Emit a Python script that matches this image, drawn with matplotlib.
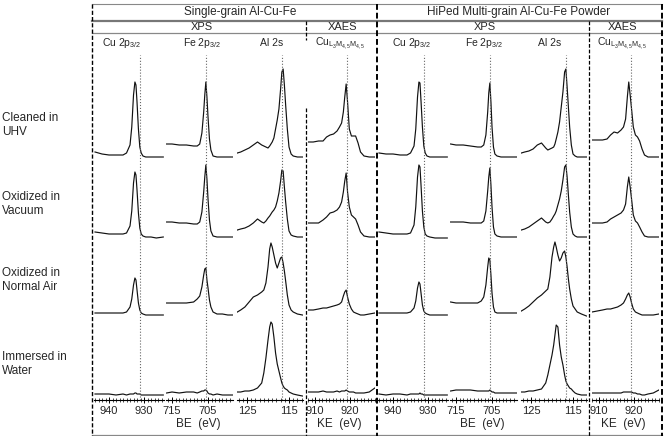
import matplotlib.pyplot as plt
from matplotlib.ticker import MultipleLocator

plt.rcParams['font.family'] = ['Liberation Sans', 'DejaVu Sans']
plt.rcParams['mathtext.fontset'] = 'custom'
plt.rcParams['mathtext.rm'] = 'Liberation Sans'
plt.rcParams['mathtext.it'] = 'Liberation Sans:italic'

# ---- data (intensity in arb. units above each row's baseline)
cu_e = [944, 942, 940, 938, 936, 935, 934, 933.5, 933.0, 932.6, 932.3, 932.0, 931.6, 931.2,
        930.8, 930.3, 929.5, 928, 926.5, 924.5]
fe_e = [716.5, 715, 713, 711, 709, 708, 707.3, 706.7, 706.2, 705.9, 705.6, 705.3, 705.0, 704.6,
        704.2, 703.6, 702.5, 701, 699.5, 698.2]
al_e = [127.3, 126.5, 125.5, 124.5, 123.5, 122.5, 121.5, 121.0, 120.5, 120.0, 119.6, 119.3, 119.0,
        118.6, 118.2, 117.8, 117.4, 117.0, 116.7, 116.4, 116.1, 115.8, 115.4, 115.0, 114.5, 114.0,
        113.0, 111.8]
lmm_e = [908, 909.5, 911, 912.3, 913.3, 914.3, 915.3, 916.3, 917.0, 917.6, 918.1, 918.5, 918.9,
         919.3, 919.8, 920.4, 921.0, 921.6, 922.3, 923.0, 924, 925.5, 927.1]

# rows: cleaned UHV, oxidized vacuum, oxidized air, immersed water
sg_cu = [[5, 3, 2, 2, 2, 4, 12, 30, 62, 75, 72, 55, 28, 10, 4, 1, 0, 0, 0, 0],
         [5, 4, 3, 3, 3, 4, 11, 26, 54, 65, 62, 47, 24, 9, 3, 1, 0, 0, -1, 0],
         [2, 2, 2, 2, 2, 3, 8, 16, 30, 37, 35, 25, 12, 5, 2, 1, 0, 0, 0, 0],
         [1, 1, 1, 0, 1, 0, 1, 1, 1, 2, 2, 1, 1, 1, 0, 0, 0, 0, 0, 0]]
sg_fe = [[13, 13, 12, 12, 11, 11, 13, 24, 45, 62, 75, 60, 40, 18, 7, 1, 0, 0, 0, 0],
         [15, 15, 14, 14, 13, 13, 15, 25, 45, 60, 72, 58, 38, 17, 6, 1, 0, 0, 0, 0],
         [12, 12, 12, 12, 13, 16, 19, 28, 40, 46, 47, 35, 27, 15, 8, 3, 1, 1, 0, 0],
         [2, 3, 2, 3, 3, 2, 3, 4, 4, 5, 5, 4, 2, 1, 1, 0, 1, 0, 0, 0]]
sg_al = [[4, 5, 7, 9, 12, 15, 12, 11, 10, 9, 11, 13, 15, 19, 28, 37, 48, 68, 85, 88, 72, 52, 28, 10, 3, 1, 0, 0],
         [7, 8, 9, 11, 14, 18, 15, 14, 16, 19, 21, 23, 25, 27, 30, 36, 44, 56, 67, 66, 50, 35, 18, 6, 2, 1, 0, 0],
         [3, 5, 8, 13, 18, 20, 23, 25, 32, 48, 66, 72, 68, 60, 52, 47, 52, 57, 58, 52, 44, 34, 20, 10, 5, 3, 1, 0],
         [3, 3, 4, 4, 5, 7, 12, 22, 37, 55, 68, 73, 71, 58, 42, 31, 24, 17, 12, 9, 7, 6, 5, 3, 2, 1, 0, -1]]
sg_lmm = [[15, 15, 16, 16, 20, 22, 23, 26, 30, 34, 45, 60, 73, 55, 28, 21, 21, 21, 14, 5, 1, 0, 0],
          [14, 14, 14, 17, 20, 24, 25, 27, 30, 35, 45, 56, 64, 45, 30, 22, 20, 18, 12, 5, 1, 0, 0],
          [5, 5, 6, 7, 7, 8, 9, 10, 11, 13, 19, 23, 25, 18, 11, 6, 3, 2, 1, 0, 0, 1, 2],
          [3, 3, 3, 4, 3, 3, 3, 4, 3, 4, 4, 4, 5, 4, 3, 3, 3, 2, 2, 2, 2, 3, 7]]

hp_cu = [[4, 3, 3, 2, 2, 4, 11, 28, 60, 75, 74, 56, 30, 11, 4, 1, 0, 0, 0, 0],
         [5, 4, 3, 3, 3, 4, 12, 30, 60, 72, 70, 52, 26, 10, 3, 1, 0, -1, -1, -1],
         [2, 2, 2, 2, 2, 3, 7, 14, 27, 33, 31, 22, 10, 4, 2, 1, 0, 0, 0, 0],
         [1, 0, 1, 1, 0, 1, 1, 1, 1, 1, 2, 1, 1, 0, 0, 0, 0, 0, 0, 0]]
hp_fe = [[13, 12, 12, 11, 10, 10, 12, 22, 45, 64, 74, 55, 30, 10, 3, 1, 0, 0, 0, 0],
         [15, 15, 15, 14, 14, 14, 16, 26, 46, 60, 69, 52, 30, 10, 3, 1, 0, 0, 0, 0],
         [13, 12, 12, 12, 12, 14, 18, 30, 48, 57, 55, 40, 22, 8, 3, 2, 2, 2, 2, 2],
         [4, 5, 5, 5, 4, 4, 4, 4, 4, 4, 5, 4, 3, 3, 2, 2, 2, 2, 2, 2]]
hp_al = [[4, 5, 6, 8, 12, 14, 9, 7, 8, 9, 10, 13, 18, 25, 35, 50, 65, 85, 88, 70, 50, 30, 12, 3, 1, 0, 0, 0],
         [7, 8, 10, 13, 16, 19, 15, 14, 15, 18, 21, 23, 26, 32, 38, 46, 57, 70, 72, 60, 42, 25, 10, 3, 1, 0, 0, 0],
         [4, 6, 9, 13, 17, 20, 24, 26, 38, 58, 68, 73, 68, 60, 54, 57, 62, 64, 58, 48, 36, 26, 16, 9, 6, 3, 1, -1],
         [3, 3, 4, 4, 5, 6, 12, 20, 30, 40, 50, 60, 70, 68, 50, 38, 30, 20, 14, 11, 9, 7, 6, 4, 2, 1, 0, 0]]
hp_lmm = [[17, 17, 17, 18, 22, 25, 24, 27, 30, 38, 60, 75, 62, 48, 30, 22, 20, 16, 8, 2, 0, 0, 0],
          [14, 14, 14, 15, 18, 20, 22, 24, 27, 33, 50, 60, 50, 38, 22, 16, 14, 10, 5, 1, 0, 0, 0],
          [3, 4, 5, 6, 6, 7, 8, 10, 12, 16, 20, 22, 18, 12, 6, 3, 2, 1, 0, 0, 0, 0, 1],
          [2, 2, 2, 2, 2, 2, 2, 2, 3, 3, 3, 3, 3, 3, 2, 2, 1, 1, 0, 0, 1, 2, 5]]

peak_lines = [931.1, 705.5, 116.7, 919.1]
major_ticks = [[940, 930], [715, 705], [125, 115], [910, 920]]
row_labels = ['Cleaned in\nUHV', 'Oxidized in\nVacuum', 'Oxidized in\nNormal Air', 'Immersed in\nWater']
panel_titles = ['Single-grain Al-Cu-Fe', 'HiPed Multi-grain Al-Cu-Fe Powder']
col_labels = [['Cu 2p$_{3/2}$', 'Fe 2p$_{3/2}$', 'Al 2s', r'Cu$_{\mathrm{L_3M_{4,5}M_{4,5}}}$'],
              ['Cu 2p$_{3/2}$', 'Fe 2p$_{3/2}$', 'Al 2s', r'Cu$_{\mathrm{L_3M_{4,5}M_{4,5}}}$']]

# ---- layout (pixels of a 664x436 canvas)
W, H = 664, 436
TXT = '#262626'
fig = plt.figure(figsize=(W / 100, H / 100), dpi=100)

ov = fig.add_axes([0, 0, 1, 1])
ov.set_xlim(0, W)
ov.set_ylim(H, 0)
ov.axis('off')

col_px = [(94, 164), (166, 233), (237, 303), (308, 375)]
col_xlim = [(944.29, 924.29), (716.67, 698.06), (127.38, 111.67), (908.0, 927.14)]
shift = [0, 284]
row_base = [243, 163, 85, 5]
y_top, y_bot = 50, 400

energies = [cu_e, fe_e, al_e, lmm_e]
panels = [[sg_cu, sg_fe, sg_al, sg_lmm], [hp_cu, hp_fe, hp_al, hp_lmm]]

for p in range(2):
    for c in range(4):
        x0, x1 = col_px[c]
        x0 += shift[p]
        x1 += shift[p]
        ax = fig.add_axes([x0 / W, 1 - y_bot / H, (x1 - x0) / W, (y_bot - y_top) / H])
        ax.patch.set_visible(False)
        ax.set_xlim(*col_xlim[c])
        ax.set_ylim(0, y_bot - y_top)
        for r in range(4):
            ys = [row_base[r] + v for v in panels[p][c][r]]
            ax.plot(energies[c], ys, color='#111111', lw=0.85)
        ax.axvline(peak_lines[c], ymin=0, ymax=0.985, color='#666666', ls=':', lw=0.8)
        for s in ['top', 'left', 'right']:
            ax.spines[s].set_visible(False)
        ax.spines['bottom'].set_linewidth(0.8)
        ax.set_yticks([])
        ax.set_xticks(major_ticks[c])
        ax.xaxis.set_minor_locator(MultipleLocator(1))
        ax.tick_params(axis='x', which='major', direction='inout', length=4, width=0.7,
                       labelsize=8, pad=2, labelcolor=TXT)
        ax.tick_params(axis='x', which='minor', direction='inout', length=2.5, width=0.5)

# frame lines
dash = (0, (3, 1.5))
ov.plot([92, 662], [4, 4], color='#888888', lw=0.8)
ov.plot([92, 662], [21, 21], color='#777777', lw=1.6)
ov.plot([92, 662], [33, 33], color='#888888', lw=0.9)
ov.plot([92, 662], [435, 435], color='#888888', lw=0.9)
ov.plot([92, 92], [4, 436], color='black', lw=1.0, ls=dash)
ov.plot([377, 377], [4, 436], color='black', lw=1.4, ls=dash)
ov.plot([662, 662], [4, 436], color='black', lw=1.4, ls=dash)
ov.plot([306, 306], [21, 40], color='black', lw=0.9, ls=dash)
ov.plot([306, 306], [108, 436], color='black', lw=0.9, ls=dash)
ov.plot([589, 589], [21, 436], color='black', lw=0.9, ls=dash)

# header text
title_x = [240, 519]
xps_x = [[202, 342], [485, 623]]
label_x = [[122, 202, 272, 340], [412, 484, 550, 622]]
for p in range(2):
    s = shift[p]
    ov.text(title_x[p], 12.5, panel_titles[p], ha='center', va='center', fontsize=8.5, color=TXT)
    ov.text(xps_x[p][0], 27, 'XPS', ha='center', va='center', fontsize=8, color=TXT)
    ov.text(xps_x[p][1], 27, 'XAES', ha='center', va='center', fontsize=8, color=TXT)
    for c in range(4):
        ov.text(label_x[p][c], 43, col_labels[p][c], ha='center', va='center', fontsize=7.5, color=TXT)
    ov.text(198 + s, 424, 'BE  (eV)', ha='center', va='center', fontsize=8.5, color=TXT)
    ov.text(339 + s, 424, 'KE  (eV)', ha='center', va='center', fontsize=8.5, color=TXT)

for r, lab in enumerate(row_labels):
    ov.text(2, [125, 204, 280, 364][r], lab, ha='left', va='center', fontsize=8.5,
            color=TXT, linespacing=1.3)

fig.savefig('out.png', dpi=100)
